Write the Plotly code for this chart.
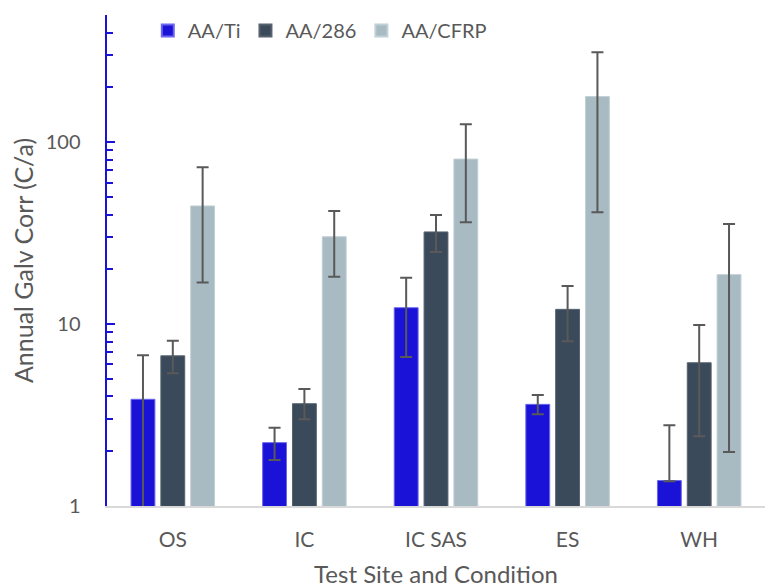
import plotly.graph_objects as go

categories = ["OS", "IC", "IC SAS", "ES", "WH"]
series_names = ["AA/Ti", "AA/286", "AA/CFRP"]

ti_values = [3.86, 2.23, 12.3, 3.62, 1.38]
ti_upper = [6.75, 2.69, 18.0, 4.07, 2.78]
ti_lower = [0.3, 1.79, 6.6, 3.19, 1.37]

s286_values = [6.69, 3.65, 32.1, 12.05, 6.13]
s286_upper = [8.09, 4.39, 39.8, 16.2, 9.89]
s286_lower = [5.36, 3.0, 24.9, 8.05, 2.42]

cfrp_values = [44.6, 30.2, 80.7, 178.0, 18.7]
cfrp_upper = [72.9, 41.9, 125.5, 312.0, 35.5]
cfrp_lower = [16.9, 18.2, 36.3, 41.2, 1.98]

y_tick_values = [1, 10, 100]
y_tick_labels = ["1", "10", "100"]

colors = ["#1a12d6", "#3b4a5a", "#a8bac2"]
edge_colors = ["#6a66ee", "#56636f", "#c2cfd5"]

fig = go.Figure()
for name, vals, up, lo, c, ec in zip(
    series_names,
    [ti_values, s286_values, cfrp_values],
    [ti_upper, s286_upper, cfrp_upper],
    [ti_lower, s286_lower, cfrp_lower],
    colors, edge_colors,
):
    fig.add_trace(go.Bar(
        name=name, x=categories, y=vals,
        marker=dict(color=c, line=dict(color=ec, width=1)),
        error_y=dict(
            type="data", symmetric=False,
            array=[u - v for u, v in zip(up, vals)],
            arrayminus=[v - l for v, l in zip(vals, lo)],
            color="#595959", thickness=2, width=6,
        ),
    ))

pad = "\u00a0\u00a0\u00a0\u00a0"
font_family = "Lato, 'Open Sans', sans-serif"
fig.update_layout(
    width=765, height=588,
    margin=dict(l=107, r=0, t=15, b=82),
    paper_bgcolor="white", plot_bgcolor="white",
    barmode="group", bargap=0.32, bargroupgap=0.2,
    font=dict(family=font_family, color="#595959", size=17),
    showlegend=True,
    legend=dict(
        orientation="h", x=0.062, y=1.008, xanchor="left", yanchor="top",
        font=dict(size=20, color="#595959"), itemsizing="constant",
        bgcolor="rgba(0,0,0,0)", traceorder="normal",
    ),
    xaxis=dict(
        automargin=False,
        showline=True, linecolor="#d9d9d9", linewidth=2,
        ticks="", showgrid=False, ticklabelstandoff=14,
        tickfont=dict(size=21, color="#595959"),
        title=dict(text="Test Site and Condition", font=dict(size=24, color="#595959"), standoff=17),
    ),
    yaxis=dict(
        automargin=False,
        type="log", range=[0, 2.699],
        showline=True, linecolor="#1a12d6", linewidth=2,
        showgrid=False, zeroline=False,
        ticks="inside", ticklen=8, tickcolor="#1a12d6", tickwidth=2,
        tickvals=y_tick_values, ticktext=[t + pad for t in y_tick_labels],
        tickfont=dict(size=20, color="#595959"),
        minor=dict(ticks="inside", ticklen=6, tickcolor="#1a12d6", tickwidth=2,
                   tickvals=[2,3,4,5,6,7,8,9,20,30,40,50,60,70,80,90,200,300,400,500], showgrid=False),
        title=dict(text="Annual Galv Corr (C/a)", font=dict(size=25, color="#595959"), standoff=5),
    ),
)

fig.write_html("out.html", config={"displayModeBar": False},
               post_script="document.body.style.margin='0';document.body.style.padding='0';")
